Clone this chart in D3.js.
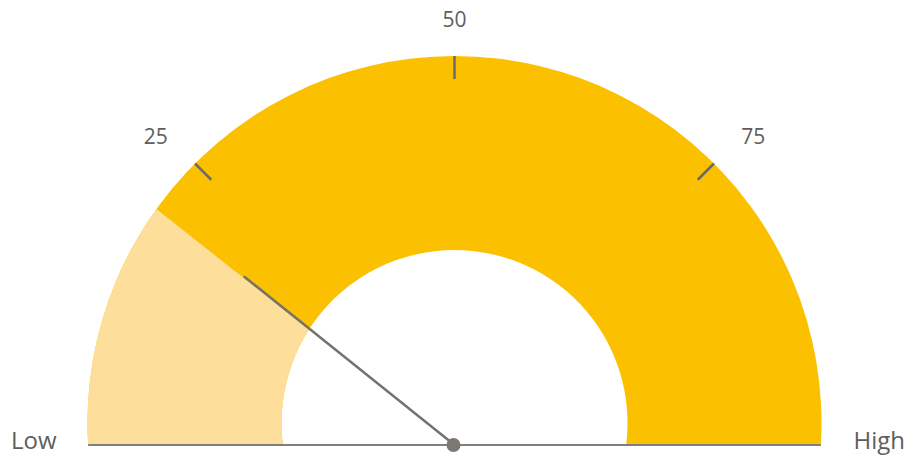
<!DOCTYPE html>
<html>
<head>
<meta charset="utf-8">
<script src="https://cdn.jsdelivr.net/npm/d3@7"></script>
<style>
  body { margin: 0; background: #fff; }
  text { font-family: "Open Sans", "Segoe UI", sans-serif; fill: #605e5c; }
</style>
</head>
<body>
<div id="vis"></div>
<script>
// gauge data
let minValue = 0, maxValue = 100
let gaugeValue = 20
let tickValues = [25, 50, 75]
let endLabels = ['Low', 'High']

let width = 911, height = 455
let cx = 454.5, cy = 423      // circle centre of the ring
let baseY = 445               // baseline / needle pivot
let outerR = 367, innerR = 173

let svg = d3.select('#vis')
  .append('svg')
  .attr('width', width)
  .attr('height', height)

// value -> angle (radians, 0 = left, PI = right, measured over the top)
let angle = d3.scaleLinear().domain([minValue, maxValue]).range([0, Math.PI])
let pt = (v, r) => [cx - r * Math.cos(angle(v)), cy - r * Math.sin(angle(v))]

// clip everything below the baseline
let defs = svg.append('defs')
defs.append('clipPath').attr('id', 'above')
  .append('rect').attr('x', 0).attr('y', 0).attr('width', width).attr('height', baseY)

let ring = d3.arc()
  .innerRadius(innerR)
  .outerRadius(outerR)
  .startAngle(-Math.PI / 2 - 0.3)
  .endAngle(Math.PI / 2 + 0.3)

defs.append('clipPath').attr('id', 'ring')
  .append('path')
  .attr('transform', `translate(${cx},${cy})`)
  .attr('d', ring())

let g = svg.append('g').attr('clip-path', 'url(#above)')

// full band
g.append('path')
  .attr('transform', `translate(${cx},${cy})`)
  .attr('d', ring())
  .attr('fill', '#fbc100')

// light wedge from the pivot up to the needle
let tip = pt(gaugeValue, outerR + 50)
let far = [cx - 600, baseY]
g.append('g').attr('clip-path', 'url(#ring)')
  .append('path')
  .attr('d', d3.line()([[cx, baseY], far, [cx - 600, baseY - 600 * (baseY - tip[1]) / (cx - tip[0])], tip]) + 'Z')
  .attr('fill', '#fddf9b')

// ticks
svg.selectAll('.tick')
  .data(tickValues)
  .enter()
  .append('line')
  .attr('x1', d => pt(d, outerR)[0])
  .attr('y1', d => pt(d, outerR)[1])
  .attr('x2', d => pt(d, outerR - 23)[0])
  .attr('y2', d => pt(d, outerR - 23)[1])
  .attr('stroke', '#6b6b6b')
  .attr('stroke-width', 2.5)

// tick labels
svg.selectAll('.tlabel')
  .data(tickValues)
  .enter()
  .append('text')
  .attr('x', d => {
    let c = Math.cos(angle(d))
    return pt(d, 400)[0] + (c > 0.1 ? -4 : c < -0.1 ? 4 : 0)
  })
  .attr('y', d => pt(d, 400)[1] - 4)
  .attr('dominant-baseline', 'central')
  .attr('text-anchor', d => {
    let c = Math.cos(angle(d))
    return c > 0.1 ? 'end' : c < -0.1 ? 'start' : 'middle'
  })
  .style('font-size', '21px')
  .text(d => d)

// baseline
svg.append('line')
  .attr('x1', cx - Math.sqrt(outerR * outerR - (baseY - cy) ** 2))
  .attr('x2', cx + Math.sqrt(outerR * outerR - (baseY - cy) ** 2))
  .attr('y1', baseY).attr('y2', baseY)
  .attr('stroke', '#7f7f7f')
  .attr('stroke-width', 2)

// needle: from pivot toward the value point, mid-band length
let vp = pt(gaugeValue, outerR)
let dx = vp[0] - cx, dy = vp[1] - baseY
let len = Math.sqrt(dx * dx + dy * dy)
let nl = (outerR + innerR) / 2
svg.append('line')
  .attr('x1', cx).attr('y1', baseY)
  .attr('x2', cx + dx / len * nl)
  .attr('y2', baseY + dy / len * nl)
  .attr('stroke', '#77726e')
  .attr('stroke-width', 2.5)

svg.append('circle')
  .attr('cx', cx - 1).attr('cy', baseY)
  .attr('r', 7)
  .attr('fill', '#7b7773')

// end labels
svg.append('text')
  .attr('x', 11).attr('y', 449)
  .style('font-size', '24px')
  .text(endLabels[0])

svg.append('text')
  .attr('x', 905).attr('y', 449)
  .attr('text-anchor', 'end')
  .style('font-size', '24px')
  .text(endLabels[1])
</script>
</body>
</html>
